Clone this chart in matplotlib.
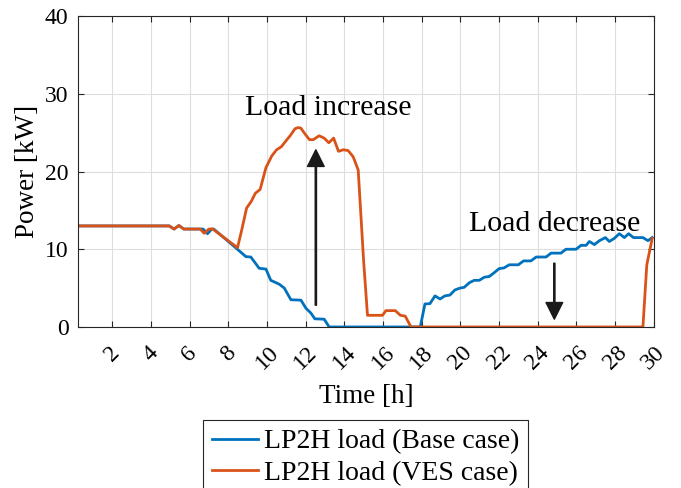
import matplotlib
matplotlib.use("Agg")
import matplotlib.pyplot as plt

plt.rcParams['font.family'] = ['Liberation Serif', 'DejaVu Serif']
plt.rcParams['mathtext.fontset'] = 'stix'

# Base case LP2H load [kW] vs time [h]
base_time = [0.25, 4.95, 5.2, 5.45, 5.7, 6.7, 6.93, 7.15, 7.25, 8.43, 8.91, 9.17,
             9.6, 9.95, 10.2, 10.64, 10.9, 11.24, 11.76, 12.02, 12.27, 12.48,
             12.96, 13.22, 17.93, 18.17, 18.43, 18.69, 18.95, 19.2, 19.46, 19.72,
             19.98, 20.2, 20.47, 20.72, 20.98, 21.24, 21.5, 21.76, 22.0, 22.26,
             22.53, 23.0, 23.27, 23.65, 23.92, 24.43, 24.69, 25.2, 25.46, 25.98,
             26.24, 26.5, 26.67, 26.93, 27.19, 27.5, 27.7, 27.96, 28.22, 28.48,
             28.7, 28.95, 29.44, 29.7, 29.92]
base_load = [13.0, 13.0, 12.6, 13.05, 12.6, 12.6, 12.0, 12.6, 12.6, 10.1, 9.05, 9.0,
             7.55, 7.45, 6.0, 5.5, 5.0, 3.5, 3.45, 2.4, 1.8, 1.05,
             1.0, 0.0, 0.0, 2.96, 3.0, 4.0, 3.6, 4.0, 4.1, 4.76,
             5.0, 5.1, 5.7, 6.0, 6.0, 6.4, 6.5, 7.0, 7.5, 7.6,
             8.0, 8.0, 8.5, 8.5, 9.0, 9.0, 9.5, 9.5, 10.0, 10.0,
             10.5, 10.5, 11.0, 10.6, 11.1, 11.5, 11.0, 11.4, 12.0, 11.5,
             12.0, 11.5, 11.5, 11.1, 11.5]

# VES case LP2H load [kW] vs time [h]
ves_time = [0.25, 4.95, 5.2, 5.45, 5.7, 6.55, 6.76, 7.0, 7.2, 8.48, 8.7, 8.95,
            9.2, 9.4, 9.65, 9.95, 10.25, 10.5, 10.75, 11.0, 11.2, 11.45, 11.6,
            11.75, 11.95, 12.2, 12.4, 12.7, 12.96, 13.2, 13.45, 13.7, 13.95,
            14.2, 14.46, 14.72, 15.0, 15.2, 15.98, 16.15, 16.64, 16.9, 17.15,
            17.45, 29.44, 29.64, 29.92]
ves_load = [13.0, 13.0, 12.6, 13.05, 12.6, 12.6, 12.05, 12.6, 12.6, 10.2, 12.5, 15.3,
            16.2, 17.2, 17.7, 20.5, 22.0, 22.8, 23.2, 24.0, 24.6, 25.5, 25.65,
            25.6, 24.9, 24.1, 24.1, 24.6, 24.3, 23.7, 24.3, 22.6, 22.8,
            22.7, 21.9, 20.2, 8.5, 1.5, 1.5, 2.1, 2.1, 1.5, 1.4,
            0.0, 0.0, 8.0, 11.4]

x_ticks = list(range(2, 31, 2))
y_ticks = [0, 10, 20, 30, 40]

series_labels = ["LP2H load (Base case)", "LP2H load (VES case)"]


def make_plot():
    """
    Draw the LP2H load comparison and save it.
    """
    fig = plt.figure(figsize=(6.81, 4.88), dpi=100)
    ax = fig.add_axes([0.115, 0.33, 0.845, 0.637])

    l1, = ax.plot(base_time, base_load, color='#0072BD', lw=2.0)
    l2, = ax.plot(ves_time, ves_load, color='#D95319', lw=2.0)

    ax.set_xlim(0.25, 30)
    ax.set_ylim(0, 40)
    ax.set_xticks(x_ticks)
    ax.set_yticks(y_ticks)
    ax.set_xticklabels([str(t) for t in x_ticks], rotation=45, ha='center', va='top')
    ax.tick_params(axis='both', direction='in', length=4.3, width=0.8, color='#262626',
                   top=True, right=True, labelsize=17)
    ax.tick_params(axis='x', pad=11)
    ax.tick_params(axis='y', pad=7)
    ax.grid(True, color='#dedede', lw=0.8)
    ax.set_axisbelow(True)
    for sp in ax.spines.values():
        sp.set_color('#262626')
        sp.set_linewidth(0.8)

    ax.set_xlabel("Time [h]", fontsize=19.5)
    ax.xaxis.set_label_coords(0.5, -0.185)
    ax.set_ylabel("Power [kW]", fontsize=19.5)
    ax.yaxis.set_label_coords(-0.066, 0.5)

    # annotations
    ax.text(13.19, 27.3, "Load increase", fontsize=21.5, ha='center', va='baseline')
    ax.text(24.86, 12.4, "Load decrease", fontsize=21.5, ha='center', va='baseline')
    arrow = dict(width=0.9, headwidth=12, headlength=12, shrink=0, color='#1a1a1a')
    ax.annotate("", xy=(12.53, 22.8), xytext=(12.53, 2.8), arrowprops=arrow)
    ax.annotate("", xy=(24.86, 1.0), xytext=(24.86, 8.2), arrowprops=arrow)

    # legend sits below the axes and runs off the bottom edge, as in the original
    leg = fig.legend([l1, l2], series_labels, loc='upper center',
                     bbox_to_anchor=(0.537, 0.14), fontsize=20, frameon=True,
                     fancybox=False, framealpha=1, edgecolor='#262626',
                     borderpad=0.33, handlelength=1.65, handletextpad=0.2,
                     labelspacing=0.22, borderaxespad=0)
    leg.get_frame().set_linewidth(0.8)

    fig.savefig("out.png", dpi=100)


if __name__ == "__main__":
    make_plot()
